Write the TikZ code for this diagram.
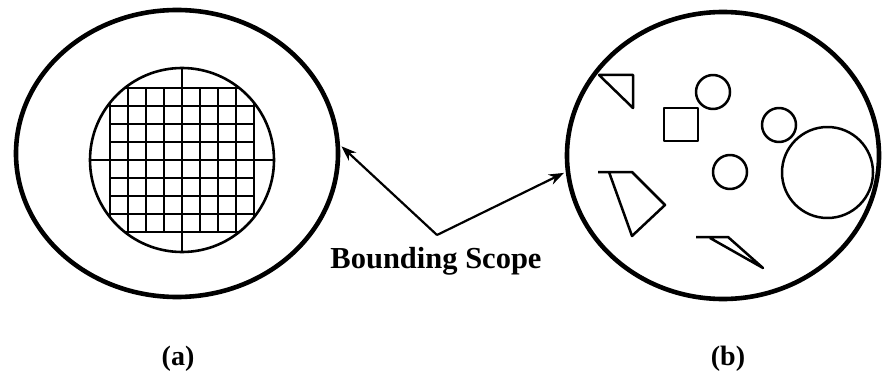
\documentclass[tikz,border=0pt]{standalone}
\usepackage{fontspec}
\setmainfont{Liberation Serif}
\usetikzlibrary{arrows.meta,shapes.geometric}

\begin{document}
\begin{tikzpicture}[
 x=1pt,y=-1pt,
 outline/.style={
  ellipse,
  draw=black,
  line width=4.6pt,
  inner sep=0pt
 },
 part/.style={draw=black,line width=2.5pt,line join=round},
 gridline/.style={draw=black,line width=2.6pt},
 pointer/.style={-{Stealth[length=15pt,width=11pt]},line width=2.2pt,shorten >=2pt},
 caption/.style={font=\fontsize{28}{32}\selectfont\bfseries}
]
 \useasboundingbox (0,0) rectangle (886,377);

 % (a): bounding scope round a gridded disc
 \node[outline,minimum width=322pt,minimum height=287pt] (boundA) at (177,153.5) {};
 \begin{scope}
  \clip (182,160) circle[radius=92];
  \foreach \k in {-4,...,4} {
   \draw[gridline] ({182+18*\k},88) -- ({182+18*\k},232);
   \draw[gridline] (110,{160+18*\k}) -- (254,{160+18*\k});
  }
  \draw[gridline] (182,60) -- (182,260);
  \draw[gridline] (80,160) -- (290,160);
 \end{scope}
 \node[circle,draw=black,line width=2.6pt,minimum size=184pt,inner sep=0pt] (disc) at (182,160) {};

 % (b): bounding scope round scattered parts
 \node[outline,minimum width=312pt,minimum height=287pt] (boundB) at (723,155.5) {};
 \draw[part] (599,75) -- (633,75) -- (633,108) -- cycle;
 \draw[part] (664,108) rectangle (698,141);
 \draw[part] (713,92) circle[radius=17];
 \draw[part] (779,125) circle[radius=17];
 \draw[part] (730,172) circle[radius=17];
 \draw[part] (827.5,172.5) circle[radius=45.5];
 \draw[part] (598,172) -- (632,172) -- (665,205) -- (632,236) -- (609,172);
 \draw[part] (696,237) -- (728,237) -- (763,268) -- (710,238);

 \coordinate (fork) at (437,235);
 \node[caption,font=\fontsize{30.5}{34}\selectfont\bfseries,anchor=base] (label) at (436,268) {Bounding Scope};
 \draw[pointer] (fork) -- (boundA.3.6);
 \draw[pointer] (fork) -- (boundB.186.3);

 \node[caption] (capA) at (178,359) {(a)};
 \node[caption] (capB) at (728,359) {(b)};
\end{tikzpicture}
\end{document}
